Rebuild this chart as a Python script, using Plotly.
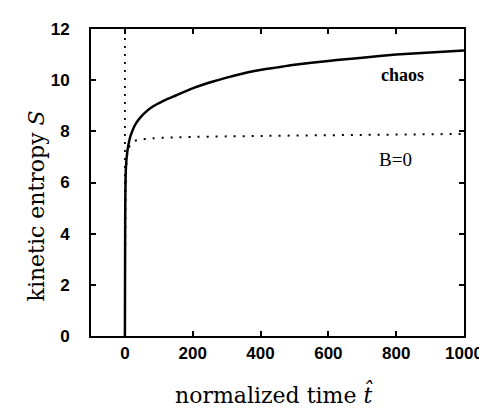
import plotly.graph_objects as go

# Data
chaos_t = [0, 0.5, 1, 2, 4, 7, 10, 15, 20, 28, 40, 57, 80, 115, 150, 203, 260, 300, 378, 450, 500, 600, 651, 700, 800, 900, 1000]
chaos_S = [0, 3.0, 5.0, 6.2, 6.8, 7.2, 7.45, 7.75, 7.95, 8.2, 8.45, 8.7, 8.95, 9.2, 9.4, 9.7, 9.95, 10.1, 10.35, 10.5, 10.6, 10.75, 10.82, 10.88, 11.0, 11.08, 11.16]

b0_t = [0, 1, 3, 6, 10, 20, 35, 60, 100, 200, 400, 700, 1000]
b0_S = [0, 4.0, 6.2, 7.0, 7.3, 7.55, 7.65, 7.7, 7.74, 7.78, 7.82, 7.86, 7.9]

vline_t = [0, 0]
vline_S = [0, 12]

x_ticks = [0, 200, 400, 600, 800, 1000]
y_ticks = [0, 2, 4, 6, 8, 10, 12]

labels = ["<b>chaos</b>", "B=0"]
label_t = [819, 797]
label_S = [10.2, 6.88]
label_sizes = [18, 19]

x_title = "normalized time <i>t\u0302</i>"
y_title = "kinetic entropy <i>S</i>"

fig = go.Figure()
fig.add_trace(go.Scatter(x=vline_t, y=vline_S, mode="lines",
                         line=dict(color="black", width=1.8, dash="2px,6px"),
                         showlegend=False, hoverinfo="skip"))
fig.add_trace(go.Scatter(x=b0_t, y=b0_S, mode="lines",
                         line=dict(color="black", width=2, dash="2px,7px", shape="spline"),
                         showlegend=False))
fig.add_trace(go.Scatter(x=chaos_t, y=chaos_S, mode="lines",
                         line=dict(color="black", width=2.5, shape="spline", smoothing=0.6),
                         showlegend=False))

for txt, tx, ty, sz in zip(labels, label_t, label_S, label_sizes):
    fig.add_annotation(x=tx, y=ty, text=txt, showarrow=False,
                       font=dict(family="Liberation Serif", size=sz, color="#000000"))

title_font = dict(family="DejaVu Serif", size=22, color="#000000")
fig.add_annotation(xref="paper", yref="paper", x=0.49, y=-0.19, text=x_title,
                   showarrow=False, font=title_font, yanchor="middle")
fig.add_annotation(xref="paper", yref="paper", x=-0.145, y=0.425, text=y_title,
                   showarrow=False, font=title_font, textangle=-90, xanchor="center")

axis_common = dict(showline=True, linecolor="black", linewidth=2, mirror="ticks",
                   ticks="inside", ticklen=5, tickwidth=1.5, tickcolor="black",
                   showgrid=False, zeroline=False,
                   tickfont=dict(family="Liberation Sans", size=17, color="black", weight="bold"))

fig.update_xaxes(range=[-100, 1000], tickvals=x_ticks, ticklabelstandoff=1, **axis_common)
fig.update_yaxes(range=[0, 12], tickvals=y_ticks, ticklabelstandoff=16, **axis_common)

fig.update_layout(width=487, height=412, margin=dict(l=83, r=27, t=13, b=84),
                  plot_bgcolor="white", paper_bgcolor="white")

fig.write_html("out.html")
